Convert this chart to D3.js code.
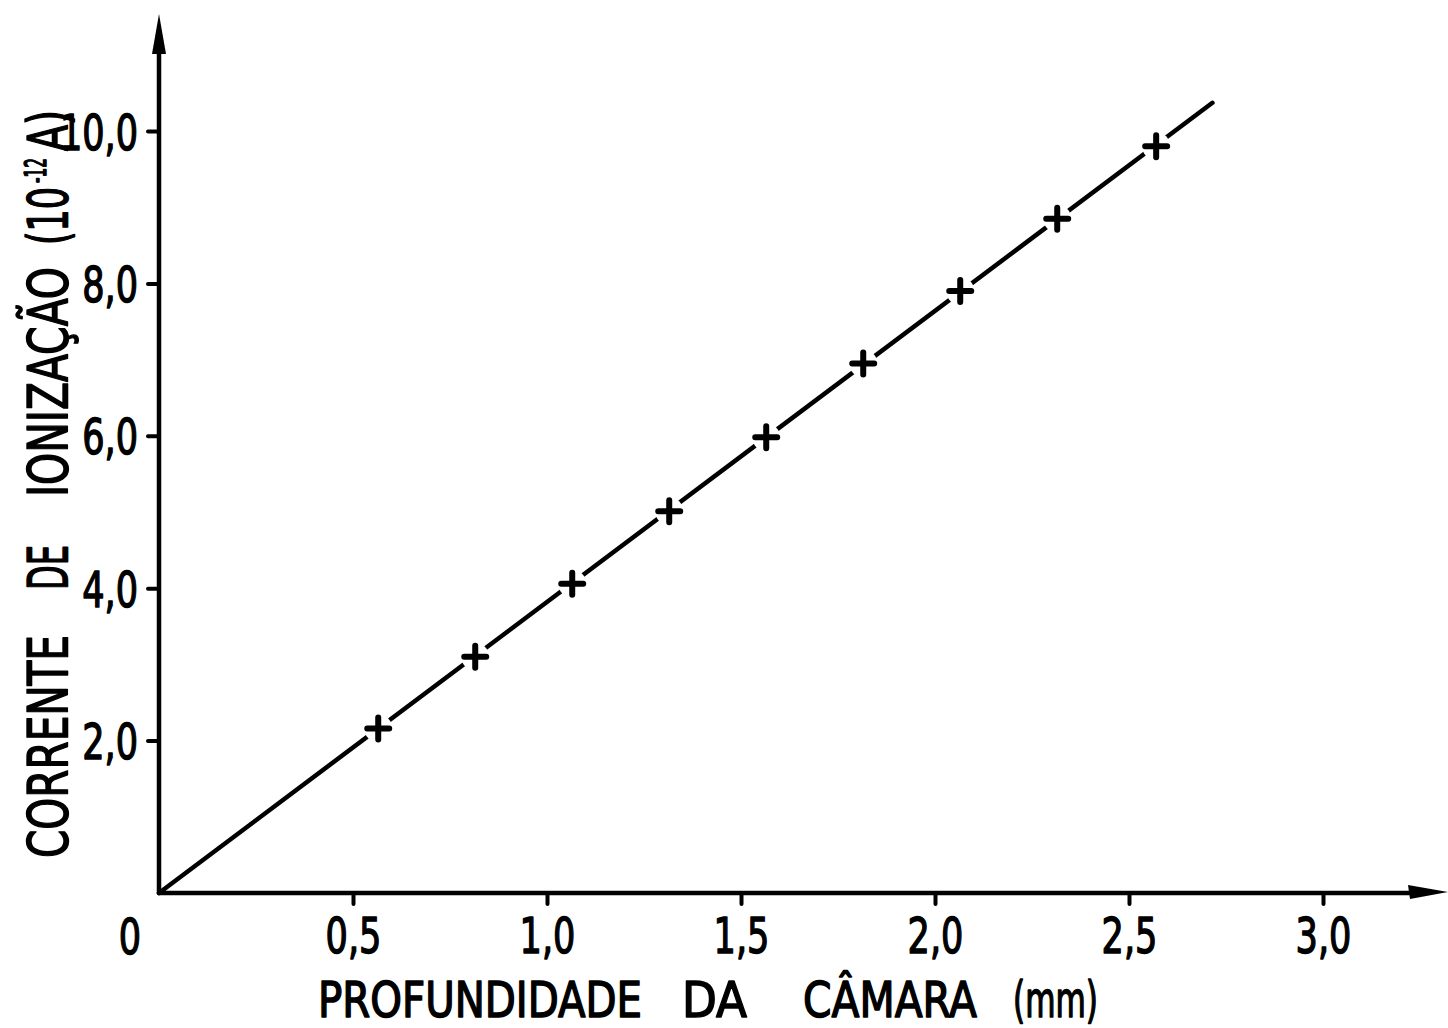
<!DOCTYPE html>
<html>
<head>
<meta charset="utf-8">
<script src="https://cdn.jsdelivr.net/npm/d3@7"></script>
<style>
  body { margin: 0; background: #fff; }
  text { font-family: "DejaVu Sans Condensed", "DejaVu Sans", sans-serif; fill: #000;
         stroke: #000; stroke-width: 1.4px; stroke-linejoin: round; }
</style>
</head>
<body>
<svg id="chart" width="1448" height="1028"></svg>
<script>
// Ionization current versus chamber depth
const depthMm   = [0.565, 0.815, 1.065, 1.315, 1.565, 1.815, 2.065, 2.315, 2.57];
const currentPA = [2.16, 3.10, 4.06, 5.01, 5.98, 6.95, 7.90, 8.85, 9.80]; // 10^-12 A
const fitRangeMm = [0, 2.715];
const xTickValues = [0.5, 1.0, 1.5, 2.0, 2.5, 3.0];
const yTickValues = [2, 4, 6, 8, 10];
const xTitleWords = ["PROFUNDIDADE", "DA", "CÂMARA", "(mm)"];
const yTitleWords = ["CORRENTE", "DE", "IONIZAÇÃO", "(10", "-12", "A)"];

const svg = d3.select("#chart");
const ink = "#000";
const narrow = 0.78;   // horizontal squeeze of the lettering

const x = d3.scaleLinear().domain([0, 3.0]).range([159, 1323]);
const y = d3.scaleLinear().domain([0, 10]).range([893, 131]);

const comma = d3.formatLocale({ decimal: ",", thousands: ".", grouping: [3], currency: ["", ""] });
const fmt1 = comma.format(".1f");

// least-squares line through the origin
const slope = d3.sum(depthMm, (d, i) => d * currentPA[i]) / d3.sum(depthMm, d => d * d);
const fitPts = fitRangeMm.map(d => [d, slope * d]);

// axes
const xAxis = d3.axisBottom(x).tickValues(xTickValues).tickSize(11).tickPadding(14).tickFormat(fmt1);
const yAxis = d3.axisLeft(y).tickValues(yTickValues).tickSize(11).tickPadding(10).tickFormat(fmt1);

const gx = svg.append("g").attr("transform", `translate(0,${y(0)})`).call(xAxis);
const gy = svg.append("g").attr("transform", `translate(${x(0)},0)`).call(yAxis);

[gx, gy].forEach(g => {
  g.select(".domain").remove();
  g.selectAll(".tick line").attr("stroke", ink).attr("stroke-width", 4).attr("stroke-linecap", "round");
  g.selectAll(".tick text").attr("font-size", 50).attr("fill", ink)
    .attr("transform", `scale(${narrow},1)`);
});
gy.selectAll(".tick text").attr("x", -21 / narrow).attr("dy", "0.36em");

// axis lines with arrowheads
svg.append("line")
  .attr("x1", x(0)).attr("y1", y(0)).attr("x2", 1420).attr("y2", y(0))
  .attr("stroke", ink).attr("stroke-width", 4.5).attr("stroke-linecap", "round");
svg.append("line")
  .attr("x1", x(0)).attr("y1", y(0)).attr("x2", x(0)).attr("y2", 40)
  .attr("stroke", ink).attr("stroke-width", 4.5).attr("stroke-linecap", "round");

svg.append("path")
  .attr("d", `M1448,${y(0) - 1} L1408,${y(0) - 8} L1410,${y(0) + 6} Z`)
  .attr("fill", ink);
svg.append("path")
  .attr("d", `M${x(0)},14 L${x(0) - 7},54 L${x(0) + 7},54 Z`)
  .attr("fill", ink);

// origin label
svg.append("text")
  .attr("transform", `translate(${x(0) - 29},${y(0) + 61}) scale(${narrow},1)`)
  .attr("text-anchor", "middle").attr("font-size", 50)
  .text("0");

// fitted line
svg.append("path")
  .datum(fitPts)
  .attr("d", d3.line().x(d => x(d[0])).y(d => y(d[1])))
  .attr("fill", "none").attr("stroke", ink).attr("stroke-width", 4.5).attr("stroke-linecap", "round");

// measured points: crosses with a clear gap in the line around them
const pts = depthMm.map((d, i) => ({ x: d, y: currentPA[i] }));
const mk = svg.append("g").selectAll("g").data(pts).join("g")
  .attr("transform", d => `translate(${x(d.x)},${y(d.y)})`);
mk.append("circle").attr("r", 14).attr("fill", "#fff");
mk.append("path")
  .attr("d", "M-11,0 L11,0 M0,-11 L0,11")
  .attr("stroke", ink).attr("stroke-width", 6).attr("stroke-linecap", "round");

// x-axis title, lettered word by word: [start, length]
const xWordBox = [[318, 324], [682, 65], [803, 174], [1013, 85]];
svg.append("g").selectAll("text").data(xTitleWords).join("text")
  .attr("x", (d, i) => xWordBox[i][0]).attr("y", 1017)
  .attr("font-size", 49)
  .attr("textLength", (d, i) => xWordBox[i][1]).attr("lengthAdjust", "spacingAndGlyphs")
  .text(d => d);

// y-axis title, reads bottom to top: [start y, length, baseline x, size]
const yWordBox = [[858, 223, 67, 55], [590, 45, 67, 55], [497, 230, 67, 55],
                  [245, 58, 67, 55], [183, 25, 46, 30], [151, 41, 67, 55]];
svg.append("g").selectAll("text").data(yTitleWords).join("text")
  .attr("transform", (d, i) => `translate(${yWordBox[i][2]},${yWordBox[i][0]}) rotate(-90)`)
  .attr("font-size", (d, i) => yWordBox[i][3])
  .attr("textLength", (d, i) => yWordBox[i][1]).attr("lengthAdjust", "spacingAndGlyphs")
  .text(d => d);
</script>
</body>
</html>
